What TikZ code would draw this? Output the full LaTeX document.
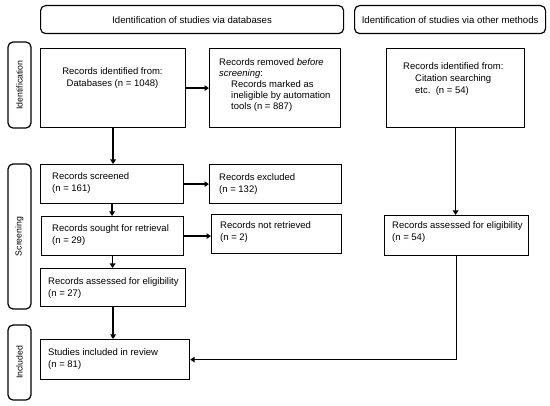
\documentclass[tikz,border=0pt]{standalone}
\usepackage{fontspec}
\setmainfont{Liberation Sans}
\usetikzlibrary{arrows.meta}
\begin{document}
\begin{tikzpicture}[x=1pt,y=-1pt,
  box/.style={draw, line width=1.2pt, inner sep=0pt, anchor=north west},
  hdr/.style={box, rounded corners=5pt, font=\fontsize{9.6}{12}\selectfont},
  side/.style={draw, line width=1.2pt, rounded corners=5pt, inner sep=0pt, rotate=90, font=\fontsize{8.7}{10}\selectfont},
  txt/.style={inner sep=0pt, align=left, font=\fontsize{9.5}{12}\selectfont},
  arr/.style={line width=1.6pt, -{Triangle[length=4.5pt,width=5.5pt]}}]
\useasboundingbox (0,0) rectangle (550,406);
% headers
\node[hdr, minimum width=303pt, minimum height=28pt] (hdrL) at (40,5) {Identification of studies via databases};
\node[hdr, minimum width=191pt, minimum height=28pt] (hdrR) at (354,5) {Identification of studies via other methods};
% side labels
\node[side, minimum width=86pt, minimum height=23pt] (sideI) at (19.5,85) {Identification};
\node[side, minimum width=145pt, minimum height=23pt] (sideS) at (19.5,236.5) {Screening};
\node[side, minimum width=75pt, minimum height=23pt] (sideN) at (19.5,362.5) {Included};
% boxes
\node[box, minimum width=145pt, minimum height=79pt] (db) at (40,48) {};
\node[box, minimum width=131pt, minimum height=79pt] (rem) at (209,48) {};
\node[box, minimum width=138pt, minimum height=79pt] (cit) at (386,48) {};
\node[box, minimum width=143pt, minimum height=39pt] (scr) at (40,164) {};
\node[box, minimum width=132pt, minimum height=39pt] (exc) at (209,164) {};
\node[box, minimum width=142pt, minimum height=39pt] (sou) at (41,216) {};
\node[box, minimum width=130pt, minimum height=39pt] (nre) at (211,214) {};
\node[box, minimum width=145pt, minimum height=38pt] (ael) at (40,268) {};
\node[box, minimum width=144pt, minimum height=40pt] (aer) at (384,215) {};
\node[box, minimum width=149pt, minimum height=40pt] (inc) at (40,339) {};
% texts
\node[txt, align=center] (tdb) at (112.5,78) {Records identified from:\\Databases (n = 1048)};
\node[txt, anchor=west, font=\fontsize{9.5}{11.2}\selectfont] (trem) at (219,85) {Records removed \textit{before}\\\textit{screening}:\\\hspace*{12pt}Records marked as\\\hspace*{12pt}ineligible by automation\\\hspace*{12pt}tools (n = 887)};
\node[txt, anchor=west] (tcit) at (403,79.5) {Records identified from:\\\hspace*{12pt}Citation searching\\\hspace*{12pt}etc.\ \ (n = 54)};
\node[txt, anchor=west] (tscr) at (52,183.5) {Records screened\\(n = 161)};
\node[txt, anchor=west] (texc) at (219,184) {Records excluded\\(n = 132)};
\node[txt, anchor=west] (tsou) at (52,235) {Records sought for retrieval\\(n = 29)};
\node[txt, anchor=west] (tnre) at (220,232) {Records not retrieved\\(n = 2)};
\node[txt, anchor=west] (tael) at (48,288.5) {Records assessed for eligibility\\(n = 27)};
\node[txt, anchor=west] (taer) at (392,232) {Records assessed for eligibility\\(n = 54)};
\node[txt, anchor=west] (tinc) at (48,359.5) {Studies included in review\\(n = 81)};
% arrows
\draw[arr] (db.south) -- (db.south |- scr.north);
\draw[arr] (db.east) -- (rem.west);
\draw[arr] (scr.east) -- (exc.west);
\draw[arr] (scr.south) -- (scr.south |- sou.north);
\draw[arr] (sou.east) -- (sou.east -| nre.west);
\draw[arr] (sou.south) -- (sou.south |- ael.north);
\draw[arr] (ael.south) -- (ael.south |- inc.north);
\draw[arr] (cit.south) -- (cit.south |- aer.north);
\draw[arr] (aer.south) |- (inc.east);
\end{tikzpicture}
\end{document}
